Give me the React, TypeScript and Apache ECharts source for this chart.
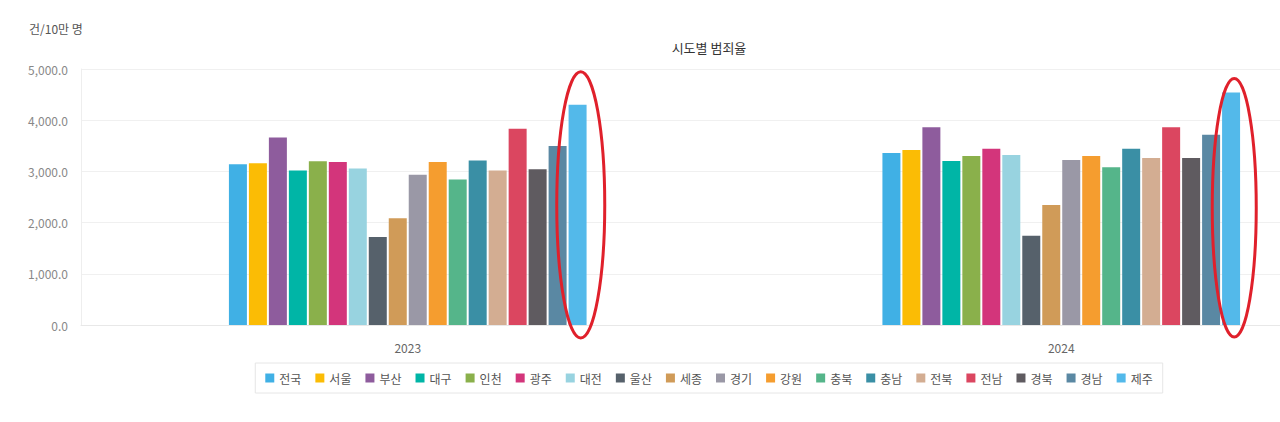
import React, { useEffect, useRef } from "react";
import * as echarts from "echarts";

const years = ["2023", "2024"];
const regions = ["전국", "서울", "부산", "대구", "인천", "광주", "대전", "울산", "세종", "경기", "강원", "충북", "충남", "전북", "전남", "경북", "경남", "제주"];
const values2023 = [3140, 3160, 3660, 3020, 3200, 3185, 3055, 1720, 2085, 2935, 3185, 2840, 3215, 3020, 3835, 3040, 3495, 4300];
const values2024 = [3360, 3420, 3860, 3205, 3300, 3440, 3320, 1745, 2345, 3225, 3300, 3080, 3440, 3260, 3860, 3260, 3715, 4540];
const colors = ["#40b0e5", "#fbbc05", "#8e5c9d", "#00b5a6", "#8ab04b", "#d3357b", "#98d3e0", "#56616b", "#d09b58", "#9a98a6", "#f59d2f", "#55b58a", "#3a8fa5", "#d3ad92", "#db4660", "#5f5b60", "#5a88a3", "#53b9ea"];
const yTicks = [0, 1000, 2000, 3000, 4000, 5000];
const highlightIndex = 17;

const FONT = "'Noto Sans CJK KR', 'Noto Sans', sans-serif";

export default function App() {
  const ref = useRef<HTMLDivElement>(null);
  useEffect(() => {
    document.body.style.margin = "0";
    const chart = echarts.init(ref.current!, undefined, { renderer: "svg" });
    const series = regions.map((name, i) => ({
      name,
      type: "bar",
      barWidth: 18,
      barGap: "11%",
      itemStyle: { color: colors[i] },
      data: [values2023[i], values2024[i]],
    }));
    chart.setOption({
      animation: false,
      textStyle: { fontFamily: FONT },
      grid: { left: 81, top: 69, height: 256, right: 30 },
      xAxis: {
        type: "category",
        data: years,
        axisLine: { lineStyle: { color: "#e8e8e8" } },
        axisTick: { show: false },
        axisLabel: { color: "#666", fontSize: 12, margin: 16, fontFamily: FONT },
      },
      yAxis: {
        type: "value",
        min: yTicks[0],
        max: yTicks[yTicks.length - 1],
        interval: 1000,
        name: "건/10만 명",
        nameLocation: "end",
        nameGap: 35,
        nameTextStyle: { color: "#555", fontSize: 12, align: "left", padding: [0, 0, 0, -52], fontFamily: FONT },
        axisLine: { show: true, lineStyle: { color: "#eeeeee" } },
        axisTick: { show: false },
        splitLine: { lineStyle: { color: "#f0f0f0" } },
        axisLabel: {
          color: "#888",
          fontSize: 12,
          margin: 13,
          fontFamily: FONT,
          formatter: (v: number) => v.toLocaleString("en-US", { minimumFractionDigits: 1, maximumFractionDigits: 1 }),
        },
      },
      legend: {
        data: regions,
        left: "center",
        top: 363,
        itemWidth: 9,
        itemHeight: 9,
        itemGap: 14,
        icon: "rect",
        borderColor: "#e6e6e6",
        borderWidth: 1,
        padding: [9, 10],
        textStyle: { color: "#555", fontSize: 12, fontFamily: FONT },
      },
      series,
    });

    const zeroY = chart.convertToPixel({ yAxisIndex: 0 }, 0) as number;
    const topPad = [33, 14];
    const bottomPad = [13, 12];
    const radiusX = [24, 22];
    const ellipses = years.map((y, k) => {
      const cx = (chart.convertToPixel({ xAxisIndex: 0 }, y) as number) + (highlightIndex - (regions.length - 1) / 2) * 20 + 3;
      const v = k === 0 ? values2023[highlightIndex] : values2024[highlightIndex];
      const top = (chart.convertToPixel({ yAxisIndex: 0 }, v) as number) - topPad[k];
      const bottom = zeroY + bottomPad[k];
      return {
        type: "ellipse",
        shape: { cx, cy: (top + bottom) / 2, rx: radiusX[k], ry: (bottom - top) / 2 },
        style: { fill: "none", stroke: "#e0202b", lineWidth: 3 },
        z: 100,
      };
    });

    chart.setOption({
      graphic: [
        {
          type: "text",
          x: 709,
          y: 47,
          style: { text: "시도별 범죄율", fill: "#333", font: `13px ${FONT}`, textAlign: "center", textVerticalAlign: "middle" },
        },
        ...ellipses,
      ],
    });
    return () => chart.dispose();
  }, []);
  return (
    <div style={{ width: 1280, height: 422, overflow: "hidden", position: "relative" }}>
      <div ref={ref} style={{ width: 1418, height: 422 }} />
    </div>
  );
}
